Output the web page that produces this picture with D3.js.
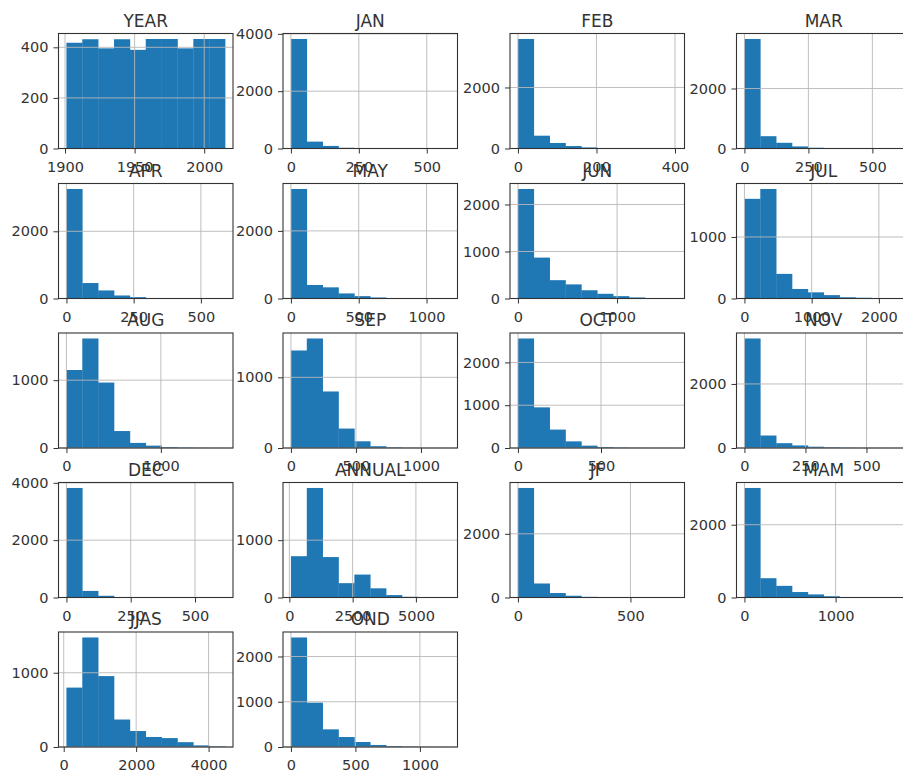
<!DOCTYPE html>
<html><head><meta charset="utf-8">
<script src="https://cdn.jsdelivr.net/npm/d3@7"></script>
<style>body{margin:0;background:#fff;} svg{display:block;}</style>
</head><body>
<svg id="chart" width="903" height="774"></svg>
<script>
// ---- data ----
const titles = ["YEAR","JAN","FEB","MAR","APR","MAY","JUN","JUL","AUG","SEP","OCT","NOV","DEC","ANNUAL","JF","MAM","JJAS","OND"];
const dataMin = [1901, 0, 0, 0, 0, 0, 0, 0, 0, 0, 0, 0, 0, 62, 0, 0, 75, 0];
const dataMax = [2015, 584, 404, 620, 590, 1170, 1600, 2360, 1680, 1220, 955, 650, 617, 6330, 705, 1740, 4455, 1230];
const binCounts = [
  [418, 432, 396, 432, 390, 433, 433, 396, 433, 433],
  [3820, 240, 90, 25, 8, 4, 2, 1, 0, 1],
  [3590, 420, 180, 80, 35, 15, 6, 3, 1, 1],
  [3650, 410, 190, 70, 25, 8, 3, 2, 1, 1],
  [3260, 460, 240, 90, 40, 15, 5, 2, 1, 1],
  [3240, 400, 330, 150, 70, 30, 12, 5, 2, 1],
  [2330, 870, 390, 300, 175, 100, 50, 22, 8, 3],
  [1620, 1780, 400, 155, 100, 55, 20, 12, 8, 4],
  [1150, 1615, 965, 250, 75, 35, 12, 5, 2, 1],
  [1380, 1550, 800, 275, 95, 25, 8, 3, 1, 1],
  [2560, 950, 430, 155, 55, 20, 8, 3, 1, 1],
  [3420, 390, 150, 80, 40, 18, 8, 3, 2, 1],
  [3820, 230, 60, 18, 6, 3, 1, 1, 0, 1],
  [720, 1910, 705, 250, 400, 160, 42, 12, 4, 2],
  [3440, 440, 140, 55, 20, 8, 4, 2, 1, 1],
  [3010, 530, 320, 150, 85, 35, 12, 4, 2, 1],
  [800, 1475, 955, 370, 215, 135, 120, 65, 22, 8],
  [2420, 980, 390, 220, 110, 45, 20, 8, 3, 1]
];
const xTickValues = [
  [1900,1950,2000],[0,250,500],[0,200,400],[0,250,500],
  [0,250,500],[0,500,1000],[0,1000],[0,1000,2000],
  [0,1000],[0,500,1000],[0,500],[0,250,500],
  [0,250,500],[0,2500,5000],[0,500],[0,1000],
  [0,2000,4000],[0,500,1000]
];
const yTickValues = [
  [0,200,400],[0,2000,4000],[0,2000],[0,2000],
  [0,2000],[0,2000],[0,1000,2000],[0,1000],
  [0,1000],[0,1000],[0,1000,2000],[0,2000],
  [0,2000,4000],[0,1000],[0,2000],[0,2000],
  [0,1000],[0,1000,2000]
];

// ---- layout ----
const colLeft = [58.5, 283, 510, 736.5];
const rowTop = [33.5, 183.5, 333, 482.5, 632];
const axW = 174.5, axH = 115;
const barColor = "#1f77b4";
const font = "DejaVu Sans, sans-serif";

const svg = d3.select("#chart");
svg.append("rect").attr("width",903).attr("height",774).attr("fill","#fff");

titles.forEach((t, k) => {
  const col = k % 4, row = Math.floor(k / 4);
  const g = svg.append("g").attr("transform", `translate(${colLeft[col]},${rowTop[row]})`);
  const mn = dataMin[k], mx = dataMax[k], R = mx - mn;
  const counts = binCounts[k];
  const x = d3.scaleLinear().domain([mn - 0.05*R, mx + 0.05*R]).range([0, axW]);
  const y = d3.scaleLinear().domain([0, d3.max(counts)*1.05]).range([axH, 0]);
  const bw = R / counts.length;

  // bars
  g.selectAll("rect.bar").data(counts).enter().append("rect")
    .attr("class","bar")
    .attr("x", (d,i) => x(mn + i*bw))
    .attr("width", (d,i) => x(mn + (i+1)*bw) - x(mn + i*bw) + 0.3)
    .attr("y", d => y(d))
    .attr("height", d => axH - y(d))
    .attr("fill", barColor);

  // grid (drawn above bars like matplotlib)
  g.selectAll("line.gx").data(xTickValues[k]).enter().append("line")
    .attr("x1", d => x(d)).attr("x2", d => x(d)).attr("y1", 0).attr("y2", axH)
    .attr("stroke", "#b8b8b8").attr("stroke-width", 0.9);
  g.selectAll("line.gy").data(yTickValues[k]).enter().append("line")
    .attr("y1", d => y(d)).attr("y2", d => y(d)).attr("x1", 0).attr("x2", axW)
    .attr("stroke", "#b8b8b8").attr("stroke-width", 0.9);

  // axes
  const xa = g.append("g").attr("transform", `translate(0,${axH})`)
    .call(d3.axisBottom(x).tickValues(xTickValues[k]).tickFormat(d3.format("d")).tickSize(5).tickPadding(8));
  const ya = g.append("g")
    .call(d3.axisLeft(y).tickValues(yTickValues[k]).tickFormat(d3.format("d")).tickSize(5).tickPadding(5));
  [xa, ya].forEach(a => {
    a.select(".domain").remove();
    a.selectAll("line").attr("stroke", "#333").attr("stroke-width", 1);
    a.selectAll("text").attr("fill", "#333").style("font-family", font).style("font-size", "14.5px");
  });

  // spines
  g.append("rect").attr("x",0).attr("y",0).attr("width",axW).attr("height",axH)
    .attr("fill","none").attr("stroke","#333").attr("stroke-width",1.1);

  // title
  g.append("text").attr("x", axW/2).attr("y", -7).attr("text-anchor","middle")
    .attr("fill","#333").style("font-family", font).style("font-size","17px").text(t);
});
</script>
</body></html>
